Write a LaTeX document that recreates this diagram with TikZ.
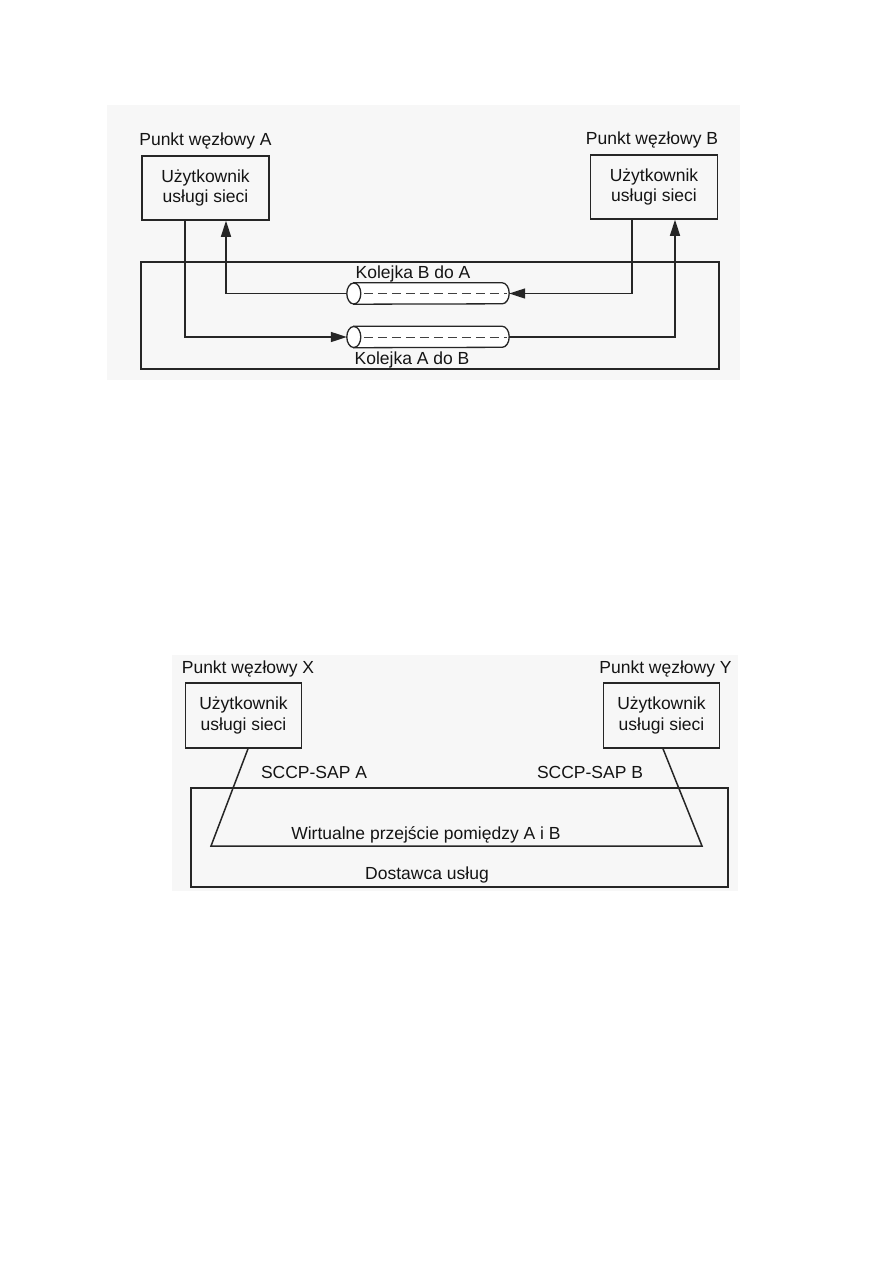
\documentclass[tikz,border=0pt]{standalone}
\usepackage{fontspec}
\setmainfont{Liberation Sans}
\usetikzlibrary{arrows.meta,calc}
\begin{document}
\begin{tikzpicture}[x=1pt,y=-1pt,
  every node/.style={font=\fontsize{17.5}{20.5}\selectfont, text=black!92},
  userbox/.style={draw=black!85, line width=1.5pt, align=center, minimum width=127pt, minimum height=64pt, inner sep=0pt},
  frame/.style={draw=black!85, line width=1.5pt, inner sep=0pt},
  flow/.style={draw=black!85, line width=1.5pt},
  tip/.style={-{Triangle[length=16pt,width=10pt]}},
  queue/.style={minimum width=162pt, minimum height=21pt, inner sep=0pt},
  cyl/.style={draw=black!85, line width=1.3pt, fill=white},
  qdash/.style={draw=black!75, line width=1pt, dash pattern=on 9pt off 5pt},
  lbl/.style={anchor=base, inner sep=0pt}]
\useasboundingbox (0,0) rectangle (893,1263);
\fill[white] (0,0) rectangle (893,1263);
\fill[gray!6] (107,105) rectangle (740,380);
\fill[gray!6] (172,655) rectangle (738,891);

% ---------- top diagram ----------
\node[frame, minimum width=578pt, minimum height=107pt] (net) at (430,315.5) {};
\node[userbox] (A) at (205.5,188) {Użytkownik\\usługi sieci};
\node[userbox] (B) at (654,187) {Użytkownik\\usługi sieci};
\node[lbl] (tA) at (205.5,145) {Punkt węzłowy A};
\node[lbl] (tB) at (652,144) {Punkt węzłowy B};

\node[queue] (qBA) at (428,293.5) {};
\node[queue] (qAB) at (428,337) {};
\foreach \q in {qBA,qAB}{
  \draw[cyl] ([xshift=7pt]\q.north west) -- ([xshift=-7pt]\q.north east)
     arc[start angle=90,end angle=-90,x radius=7pt,y radius=10.5pt]
     -- ([xshift=7pt]\q.south west) -- cycle;
  \draw[cyl] ([xshift=7pt]\q.west) ellipse[x radius=7pt,y radius=10.5pt];
  \draw[qdash] ([xshift=17pt]\q.west) -- ([xshift=-2pt]\q.east);
}
\node[lbl] (lBA) at (413,278) {Kolejka B do A};
\node[lbl] (lAB) at (412,364) {Kolejka A do B};

\draw[flow,tip] ([xshift=-22pt]B.south) |- (qBA.east);
\draw[flow,tip] (qBA.west) -| ([xshift=20.5pt]A.south);
\draw[flow,tip] ([xshift=-20.5pt]A.south) |- (qAB.west);
\draw[flow,tip] (qAB.east) -| ([xshift=21pt]B.south);

% ---------- bottom diagram ----------
\node[frame, minimum width=537pt, minimum height=99pt] (prov) at (459.5,837.5) {};
\node[userbox, minimum width=116pt, minimum height=65pt] (X) at (243.5,715.5) {Użytkownik\\usługi sieci};
\node[userbox, minimum width=116pt, minimum height=65pt] (Y) at (661.5,715.5) {Użytkownik\\usługi sieci};
\node[lbl] (tX) at (248,673) {Punkt węzłowy X};
\node[lbl] (tY) at (665.5,673) {Punkt węzłowy Y};
\coordinate (c1) at (211,846);
\coordinate (c2) at (702,846);
\draw[flow] ([xshift=4.5pt]X.south) -- (c1) -- (c2) -- ([xshift=1.5pt]Y.south);
\node[lbl] (sA) at (314,778) {SCCP-SAP A};
\node[lbl] (sB) at (590,778) {SCCP-SAP B};
\node[lbl] (virt) at (426,839) {Wirtualne przejście pomiędzy A i B};
\node[lbl] (dost) at (427,879) {Dostawca usług};
\end{tikzpicture}
\end{document}
